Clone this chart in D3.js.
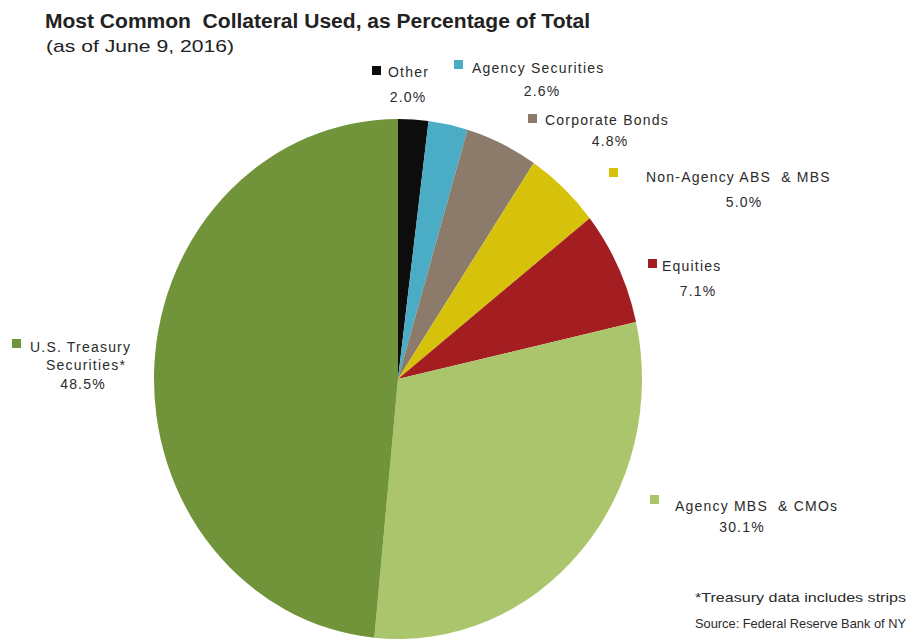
<!DOCTYPE html>
<html>
<head>
<meta charset="utf-8">
<script src="https://cdn.jsdelivr.net/npm/d3@7"></script>
<style>
  body { margin: 0; background: #fff; }
  text { font-family: "Liberation Sans", Arial, sans-serif; fill: #2b2b2b; white-space: pre; }
</style>
</head>
<body>
<script>
// collateral types, clockwise from 12 o'clock
const categories = ["Other", "Agency Securities", "Corporate Bonds", "Non-Agency ABS  & MBS",
    "Equities", "Agency MBS  & CMOs", "U.S. Treasury Securities*"];
const nameLines = [["Other"], ["Agency Securities"], ["Corporate Bonds"], ["Non-Agency ABS  & MBS"],
    ["Equities"], ["Agency MBS  & CMOs"], ["U.S. Treasury", "Securities*"]];
const values = [2.0, 2.6, 4.8, 5.0, 7.1, 30.1, 48.5];
const colors = ["#0d0d0d", "#4bacc6", "#8c7b6b", "#d6c20a", "#a31d21", "#abc56c", "#71943b"];

const title = "Most Common  Collateral Used, as Percentage of Total";
const subtitle = "(as of June 9, 2016)";
const notes = ["*Treasury data includes strips", "Source: Federal Reserve Bank of NY"];

// label layout: marker square, name start / baseline, percent centre / baseline
const layout = [
    {sq: [372, 66], nx: 388, ny: 77, px: 408, py: 102},
    {sq: [454, 60], nx: 472, ny: 73, px: 542, py: 96},
    {sq: [528, 114], nx: 545, ny: 125, px: 610, py: 146},
    {sq: [609, 168], nx: 646, ny: 182, px: 744, py: 207},
    {sq: [648, 259], nx: 662, ny: 271, px: 698, py: 296},
    {sq: [650, 495], nx: 675, ny: 511, px: 742, py: 532},
    {sq: [12, 339], nx: 30, ny: 352, px: 83, py: 389, lx: 86, ly: 370}
];

const width = 913;
const height = 643;
const cx = 398, cy = 379, rx = 244, ry = 260;

const svg = d3.select("body").append("svg")
    .attr("width", width)
    .attr("height", height);

svg.append("text")
    .attr("x", 45).attr("y", 28)
    .attr("font-size", 20).attr("font-weight", "bold")
    .attr("textLength", 545).attr("lengthAdjust", "spacingAndGlyphs")
    .style("fill", "#222")
    .text(title);

svg.append("text")
    .attr("x", 46).attr("y", 52)
    .attr("font-size", 17)
    .attr("textLength", 188).attr("lengthAdjust", "spacingAndGlyphs")
    .style("fill", "#222")
    .text(subtitle);

const pie = d3.pie().sort(null).value(d => d);
const arc = d3.arc().innerRadius(0).outerRadius(rx);

const g = svg.append("g")
    .attr("transform", `translate(${cx},${cy}) scale(1,${ry / rx})`);

g.selectAll("path")
    .data(pie(values))
    .join("path")
    .attr("d", arc)
    .attr("fill", (d, i) => colors[i]);

const fmt = d3.format(".1f");

const labels = svg.selectAll("g.lab")
    .data(values)
    .join("g")
    .attr("class", "lab");

labels.append("rect")
    .attr("x", (d, i) => layout[i].sq[0])
    .attr("y", (d, i) => layout[i].sq[1])
    .attr("width", 9).attr("height", 9)
    .attr("fill", (d, i) => colors[i]);

labels.each(function(d, i) {
    const l = layout[i];
    const sel = d3.select(this);
    nameLines[i].forEach((line, j) => {
        sel.append("text")
            .attr("x", j === 0 ? l.nx : l.lx)
            .attr("y", j === 0 ? l.ny : l.ly)
            .attr("text-anchor", j === 0 ? "start" : "middle")
            .attr("font-size", 14)
            .attr("letter-spacing", 1.2)
            .text(line);
    });
    sel.append("text")
        .attr("x", l.px).attr("y", l.py)
        .attr("text-anchor", "middle")
        .attr("font-size", 14)
        .attr("letter-spacing", 1.2)
        .text(fmt(d) + "%");
});

svg.selectAll("text.note")
    .data(notes)
    .join("text")
    .attr("class", "note")
    .attr("x", 695)
    .attr("y", (d, i) => 602 + i * 26)
    .attr("font-size", 13)
    .attr("textLength", 211)
    .attr("lengthAdjust", "spacingAndGlyphs")
    .text(d => d);
</script>
</body>
</html>
